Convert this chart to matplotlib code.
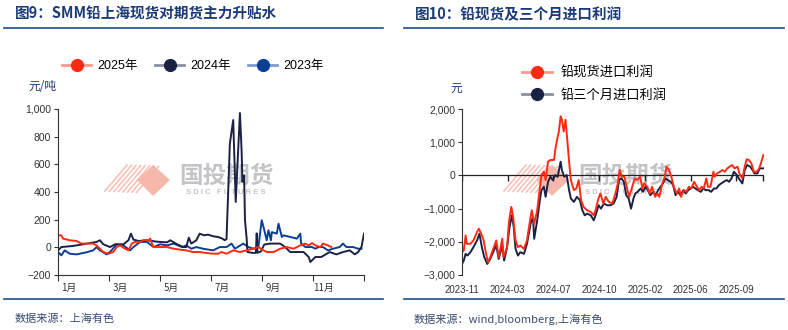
import matplotlib
matplotlib.use("Agg")
import matplotlib.pyplot as plt
import numpy as np
from matplotlib.lines import Line2D
from matplotlib.patches import Polygon
from matplotlib.ticker import FuncFormatter

plt.rcParams['font.family'] = ['Liberation Sans', 'Noto Sans CJK SC']
plt.rcParams['axes.unicode_minus'] = True

# ---------------- Data: chart 9 (day of year, yuan/ton) ----------------
day_2025 = [0, 4, 6, 14, 22, 28, 34, 42, 46, 50, 54, 60, 66, 70, 74, 80, 84, 88, 92, 98, 102, 108, 110, 112, 114,
            122, 130, 138, 146, 153, 161, 169, 177, 185, 191, 195, 201, 205, 209, 217, 225, 233, 239, 245, 249,
            257, 265, 273, 281, 289, 295, 299, 303, 307, 313, 316, 322, 326]
val_2025 = [87, 87, 63, 51, 46, 27, 27, 27, 14, -10, -34, -46, -34, 2, 14, -10, -22, 27, 39, 39, 51, 51, 63, 27, 2,
            2, 2, -10, -17, -22, -34, -34, -41, -46, -46, -34, -46, -34, -22, -34, -22, -10, 2, -22, -34,
            -34, -10, 2, -10, 14, 27, 14, 31, 14, 2, 27, 14, 2]

day_2024 = [0, 4, 18, 30, 46, 50, 54, 62, 68, 78, 84, 87, 90, 96, 106, 118, 130, 134, 142, 149, 153, 156, 159,
            165, 169, 174, 179, 185, 191, 196, 199, 201, 203, 205, 209, 212, 217, 219, 220, 222, 223, 225, 226,
            232, 236, 237, 238, 242, 246, 253, 265, 271, 277, 285, 293, 299, 301, 307, 314, 324, 332, 340, 348,
            354, 358, 362, 365]
val_2024 = [-22, 2, 10, 22, 39, 51, 22, 2, 22, 22, 51, 99, 56, 46, 51, 41, 36, 51, 22, 2, 2, 70, 27,
            51, 99, 87, 92, 80, 75, 63, 51, 60, 400, 750, 920, 328, 971, 700, 473, 520, 200, 65, -34,
            -40, -40, 101, -40, -30, 20, 27, 27, 2, -34, -34, -34, -70, -106, -70, -70, -34, -51, -34, -22,
            -51, -34, 2, 99]

day_2023 = [0, 4, 8, 14, 22, 34, 42, 46, 50, 58, 62, 70, 78, 86, 90, 98, 106, 114, 122, 130, 138, 148, 153,
            159, 165, 173, 185, 193, 201, 207, 211, 221, 227, 233, 239, 243, 245, 249, 251, 254, 255, 261, 263,
            267, 269, 277, 285, 289, 290, 295, 303, 307, 311, 316, 322, 328, 336, 340, 344, 352, 358, 362]
val_2023 = [-34, -58, -22, -46, -51, -36, -22, 2, -22, -51, -34, 22, 14, -22, 2, 39, 39, 2, 22, 14, 27, 2, 14,
            -10, 2, -10, -22, 2, 2, 27, -10, 27, 2, -10, 2, 196, 150, 51, 123, 51, 110, 99, 171,
            75, 87, 75, 63, 99, 27, 2, 2, -10, 2, 2, -22, -10, 2, 27, 2, 2, -10, -10]

month_labels = ['1月', '3月', '5月', '7月', '9月', '11月']

# ---------------- Data: chart 10 (trading-day index, yuan/ton) ----------------
spot_idx = [0, 3, 6, 8, 14, 19, 25, 28, 32, 36, 39, 43, 47, 53, 57, 61, 67, 69, 75, 78, 82, 85, 89, 93, 97,
            103, 108, 114, 116, 120, 125, 129, 132, 136, 139, 143, 147, 153, 155, 158, 161, 164, 166, 169,
            172, 175, 178, 181, 186, 190, 194, 198, 202, 208, 214, 219, 222, 226, 230, 235, 239, 244, 250,
            255, 259, 262, 266, 270, 275, 278, 283, 287, 291, 296, 300, 303, 308, 312, 316, 321, 325, 328,
            333, 337, 340, 344, 348, 352, 357, 361, 364, 369, 373, 377, 381, 386, 389, 394, 398, 402, 406,
            409, 413, 418, 420, 424, 429, 433, 437, 441, 445, 449, 453, 458, 462, 466, 470, 473, 477, 481,
            485, 490, 494, 496, 501]
spot_val = [-2313, -2262, -1808, -2060, -2060, -1959, -1707, -1606, -1757, -1959, -2262, -2616, -2464, -2161,
            -1959, -2464, -1909, -2464, -2161, -1404, -949, -1252, -1959, -2161, -2111, -2212, -1959, -1252,
            -1050, -1454, -1050, -444, 10, 111, -141, 414, 465, 465, 768, 1071, 1323, 1778, 1677, 1323,
            1677, 1071, 414, -141, -444, -394, -141, -747, -949, -1050, -1101, -1202, -1050, -747, -545,
            -848, -646, -797, -848, -545, -242, 162, -40, -40, -444, -646, -343, -91, -141, -40, -394,
            -242, -343, -545, -343, -646, -545, -646, -242, -40, 263, 162, -40, -343, -545, -394, -646,
            -444, -495, -343, -394, -192, -293, -444, -343, -394, -91, -343, -343, 111, -40, 61, 111, 162,
            111, 212, 263, 313, 212, 263, 10, -91, 263, 485, 465, 364, 111, 111, 212, 313, 616]

m3_idx = [0, 3, 6, 9, 14, 19, 25, 29, 33, 37, 42, 47, 53, 57, 61, 67, 70, 75, 79, 83, 86, 89, 93, 97, 103,
          108, 114, 118, 120, 125, 129, 132, 136, 139, 143, 147, 151, 155, 159, 164, 166, 170, 174, 178,
          181, 186, 191, 196, 200, 204, 208, 214, 219, 223, 227, 231, 236, 241, 247, 252, 257, 261, 265,
          269, 273, 277, 281, 285, 288, 292, 297, 301, 305, 309, 313, 318, 322, 326, 330, 334, 338, 342,
          347, 351, 355, 359, 363, 368, 372, 376, 380, 384, 388, 392, 397, 401, 405, 410, 414, 419, 423,
          427, 431, 435, 440, 444, 448, 452, 457, 460, 466, 470, 474, 479, 483, 486, 491, 495, 501]
m3_val = [-2666, -2565, -2363, -2414, -2313, -2161, -1959, -1757, -2161, -2464, -2666, -2515, -2262, -2111,
          -2515, -2111, -2565, -2161, -1555, -1202, -1555, -2212, -2414, -2313, -2363, -2060, -1454, -1252,
          -1909, -1353, -798, -444, -343, -646, -192, -40, -141, 10, -40, 414, 162, -40, 10, -444, -697,
          -798, -646, -747, -1050, -1202, -1151, -1202, -1353, -1151, -899, -1000, -848, -899, -899, -848,
          -646, -141, -91, -192, -596, -697, -1000, -697, -545, -495, -394, -495, -343, -444, -596, -495,
          -596, -444, -343, -242, -91, -141, -192, -293, -596, -495, -596, -444, -545, -444, -394, -343,
          -394, -444, -495, -394, -444, -444, -495, -394, -394, -293, -242, -192, -141, -192, -91, 111, 10,
          -91, -242, 162, 313, 263, 162, 61, 61, 212, 212]

date_pos = [0, 76, 152, 228, 304, 380, 456]
date_labels = ['2023-11', '2024-03', '2024-07', '2024-10', '2025-02', '2025-06', '2025-09']

# ---------------- Styling ----------------
RED = '#FF2A14'
NAVY = '#1B2142'
BLUE = '#0B3E96'
TITLE_C = '#1A3B78'
LINE_C = '#1F4A8E'
TICK_C = '#333333'

W, H = 788, 330
fig = plt.figure(figsize=(W / 100, H / 100), dpi=100)

def fx(px):
    return px / W

def fy(py):
    return 1 - py / H

cjk = ['Noto Sans CJK SC', 'DejaVu Sans']

# titles
fig.text(fx(15), fy(14), '图9：SMM铅上海现货对期货主力升贴水', fontsize=10.5, fontweight='bold',
         color=TITLE_C, family=cjk, va='center', ha='left')
fig.text(fx(415), fy(14), '图10：铅现货及三个月进口利润', fontsize=10.5, fontweight='bold',
         color=TITLE_C, family=cjk, va='center', ha='left')
for x0, x1 in [(4, 383), (404, 784)]:
    fig.add_artist(Line2D([fx(x0), fx(x1)], [fy(28), fy(28)], color=LINE_C, lw=1.2))
    fig.add_artist(Line2D([fx(x0), fx(x1)], [fy(299), fy(299)], color=LINE_C, lw=1.2))

fig.text(fx(15), fy(319), '数据来源：上海有色', fontsize=8, color='#3A4C72', family=cjk,
         va='center', ha='left', style='italic')
fig.text(fx(414), fy(319), '数据来源：wind,bloomberg,上海有色', fontsize=8, color='#3A4C72',
         family=cjk, va='center', ha='left', style='italic')

def watermark(ax, dx):
    # pink stripes + diamond logo and grey text
    tr = fig.transFigure
    for k in range(8):
        x0 = 105 + dx + k * 4.5
        ax.add_line(Line2D([fx(x0), fx(x0 + 22)], [fy(173 + k * 0.2 + 18), fy(165 + k * 0.2)],
                           color='#F7C3B8', lw=1.2, transform=tr, zorder=0.5))
    dia = Polygon([[fx(137 + dx), fy(180)], [fx(153 + dx), fy(165)], [fx(170 + dx), fy(180)],
                   [fx(153 + dx), fy(196)]], closed=True, transform=tr, facecolor='#F6B8AA',
                  edgecolor='none', zorder=0.5)
    ax.add_patch(dia)
    ax.text(fx(226 + dx), fy(176), '国投期货', transform=tr, fontsize=17, color='#C4C4C8',
            family=cjk, ha='center', va='center', zorder=0.5, fontweight='bold')
    ax.text(fx(226 + dx), fy(192), 'S D I C   F U T U R E S', transform=tr, fontsize=5.5,
            color='#C4C4C8', ha='center', va='center', zorder=0.5, fontweight='bold')

comma = FuncFormatter(lambda v, p: ('−' if v < 0 else '') + f'{abs(int(v)):,}')

# ---------------- Left chart ----------------
ax1 = fig.add_axes([fx(58), fy(275), fx(364) - fx(58), fy(109) - fy(275)])
ax1.set_facecolor('none')
watermark(ax1, 0)
ax1.plot(day_2023, val_2023, color=BLUE, lw=1.4, zorder=2)
ax1.plot(day_2024, val_2024, color=NAVY, lw=1.4, zorder=2.1)
ax1.plot(day_2025, val_2025, color=RED, lw=1.4, zorder=2.2)
ax1.set_xlim(0, 365)
ax1.set_ylim(-200, 1000)
ax1.set_yticks(np.arange(-200, 1001, 200))
ax1.yaxis.set_major_formatter(comma)
major = np.linspace(0, 365, 7)
ax1.set_xticks(major)
ax1.set_xticklabels([''] * 7)
ax1.set_xticks(major[:-1] + 13, minor=True)
ax1.set_xticklabels(month_labels, minor=True, family=cjk)
ax1.tick_params(axis='x', which='minor', length=0, pad=6, labelsize=7, colors=TICK_C)
ax1.tick_params(axis='x', which='major', length=4, width=0.8, direction='out', color='#333333')
ax1.tick_params(axis='y', length=3, width=0.8, labelsize=7.5, colors=TICK_C, pad=2)
for s in ['top', 'right']:
    ax1.spines[s].set_visible(False)
for s in ['left', 'bottom']:
    ax1.spines[s].set_color('#333333')
    ax1.spines[s].set_linewidth(0.8)

handles = [Line2D([], [], color=c2, lw=2, marker='o', markersize=8.5, markerfacecolor=c1,
                  markeredgecolor=c1) for c1, c2 in [(RED, '#F79A8C'), (NAVY, '#8C8FA0'),
                                                      (BLUE, '#7F9CCF')]]
fig.legend(handles, ['2025年', '2024年', '2023年'], loc='center', bbox_to_anchor=(fx(193), fy(66)),
           ncol=3, frameon=False, fontsize=9, handlelength=2.3, columnspacing=1.4, handletextpad=0.5)
fig.text(fx(28), fy(87), '元/吨', fontsize=8.5, color=TITLE_C, family=cjk, va='center', ha='left')

# ---------------- Right chart ----------------
ax2 = fig.add_axes([fx(462), fy(275), fx(764) - fx(462), fy(109) - fy(275)])
ax2.set_facecolor('none')
watermark(ax2, 399)
ax2.axhline(0, color='#222222', lw=0.9, zorder=1.5)
ax2.plot(date_pos + [501], [0] * (len(date_pos) + 1), linestyle='none', marker=3, markersize=4,
         color='#222222', zorder=1.5)
ax2.plot(m3_idx, m3_val, color=NAVY, lw=1.4, zorder=2)
ax2.plot(spot_idx, spot_val, color=RED, lw=1.4, zorder=2.1)
ax2.set_xlim(0, 502)
ax2.set_ylim(-3000, 2000)
ax2.set_yticks(np.arange(-3000, 2001, 1000))
ax2.yaxis.set_major_formatter(comma)
ax2.set_xticks(date_pos)
ax2.set_xticklabels(date_labels)
ax2.tick_params(axis='x', length=0, pad=7, labelsize=7, colors=TICK_C)
ax2.tick_params(axis='y', length=3, width=0.8, labelsize=7.5, colors=TICK_C, pad=2)
for s in ['top', 'right', 'bottom']:
    ax2.spines[s].set_visible(False)
ax2.spines['left'].set_color('#333333')
ax2.spines['left'].set_linewidth(0.8)

handles2 = [Line2D([], [], color=c2, lw=2, marker='o', markersize=8.5, markerfacecolor=c1,
                   markeredgecolor=c1) for c1, c2 in [(RED, '#F79A8C'), (NAVY, '#8C8FA0')]]
fig.legend(handles2, ['铅现货进口利润', '铅三个月进口利润'], loc='upper left',
           bbox_to_anchor=(fx(510), fy(55)), ncol=1, frameon=False, handlelength=2.3,
           handletextpad=0.6, labelspacing=0.7, prop={'family': cjk, 'size': 9.5})
fig.text(fx(456), fy(88), '元', fontsize=8.5, color=TITLE_C, family=cjk, va='center', ha='center')

fig.savefig('out.png', dpi=100)
